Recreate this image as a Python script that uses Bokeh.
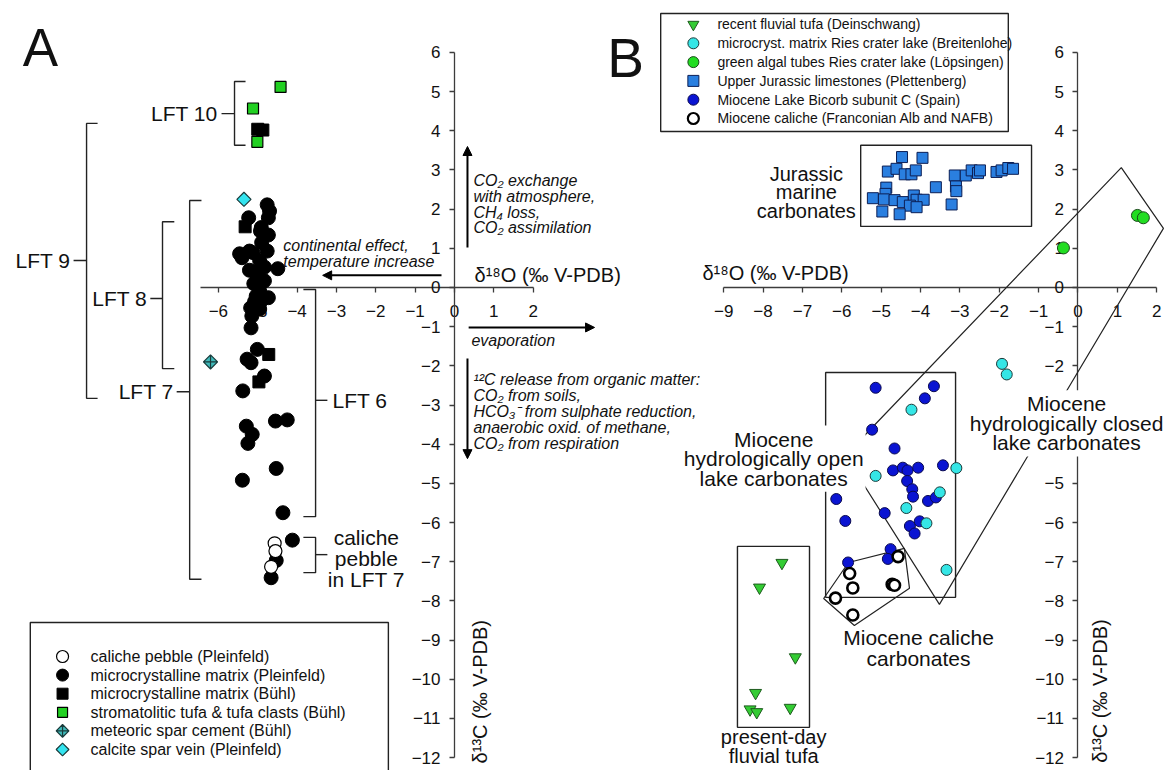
import math
from bokeh.plotting import figure
from bokeh.models import (Range1d, LinearAxis, FixedTicker, Label, Arrow, NormalHead)
from bokeh.embed import file_html
from bokeh.resources import INLINE

FONT = "Liberation Sans"

# ---------------- Panel A data (d18O, d13C) ----------------
A_caliche_x = [-4.57, -4.55, -4.66]
A_caliche_y = [-6.53, -6.73, -7.13]

A_matrix_pl_x = [-4.76, -4.70, -4.73, -5.23, -4.91, -4.93, -4.73, -4.76, -5.46, -5.40,
                 -5.21, -5.12, -4.95, -4.83, -4.49, -5.21, -5.04, -4.83, -4.95, -5.04,
                 -4.73, -5.08, -4.91, -5.18, -5.15, -5.17, -5.01, -5.27, -5.17, -4.83,
                 -5.38, -4.55, -4.25, -5.29, -5.14, -5.25, -4.53, -5.39, -4.36, -4.12,
                 -4.53, -4.66, -4.95, -5.10, -4.90]
A_matrix_pl_y = [2.11, 1.95, 1.78, 1.78, 1.53, 1.44, 1.34, 0.93, 0.86, 0.76,
                 0.93, 0.89, 0.68, 0.52, 0.48, 0.44, 0.40, 0.17, -0.09, -0.22,
                 -0.26, -0.36, -0.34, -0.52, -0.73, -1.03, -1.58, -1.83, -1.92, -2.26,
                 -2.64, -3.41, -3.38, -3.54, -3.75, -3.98, -4.62, -4.92, -5.75, -6.45,
                 -6.97, -7.41, -0.55, 0.10, 1.15]

A_matrix_bu_x = [-5.00, -4.87, -5.32, -4.72, -4.97]
A_matrix_bu_y = [4.04, 4.02, 1.55, -1.71, -2.41]

A_tufa_x = [-4.42, -5.12, -5.01]
A_tufa_y = [5.12, 4.57, 3.72]

A_meteoric_x = [-6.20]
A_meteoric_y = [-1.90]

A_vein_x = [-5.35]
A_vein_y = [2.25]

# ---------------- Panel B data ----------------
B_recent_x = [-7.52, -8.09, -7.18, -8.19, -8.33, -8.16, -7.31]
B_recent_y = [-7.03, -7.66, -9.44, -10.35, -10.77, -10.84, -10.73]

B_ries_x = [-4.23, -5.14, -3.09, -3.51, -4.36, -3.85, -3.34, -1.93, -1.81, -2.49]
B_ries_y = [-3.12, -4.81, -4.61, -5.23, -5.63, -6.02, -7.21, -1.95, -2.22, -2.90]

B_algal_x = [1.51, 1.66, -0.37]
B_algal_y = [1.84, 1.78, 1.01]

B_jur_x = [-4.47, -3.95, -4.83, -4.61, -4.40, -4.23, -4.12, -4.87, -4.89, -5.21,
           -4.93, -4.66, -4.45, -4.17, -4.10, -3.92, -4.27, -4.10, -4.97, -4.53,
           -3.61, -3.21, -3.13, -3.10, -3.09, -2.85, -2.70, -2.54, -2.49, -2.07,
           -1.94, -1.77, -1.65]
B_jur_y = [3.33, 3.31, 2.96, 3.03, 2.89, 2.89, 2.99, 2.55, 2.39, 2.28,
           2.25, 2.23, 2.18, 2.35, 2.24, 2.24, 2.09, 2.05, 1.94, 1.87,
           2.56, 2.12, 2.86, 2.58, 2.46, 2.86, 2.99, 2.92, 2.99, 2.95,
           2.99, 3.05, 3.03]

B_bicorb_x = [-5.14, -3.66, -3.89, -5.23, -4.66, -4.70, -4.45, -4.33, -4.06, -3.43,
              -4.34, -4.21, -4.19, -3.81, -3.61, -6.14, -4.91, -5.91, -4.27, -4.02,
              -4.15, -4.76, -4.83, -5.84]
B_bicorb_y = [-2.56, -2.52, -2.83, -3.63, -4.11, -4.67, -4.60, -4.67, -4.60, -4.54,
              -4.94, -5.15, -5.34, -5.45, -5.36, -5.40, -5.76, -5.96, -6.09, -5.97,
              -6.28, -6.68, -6.93, -7.02]

B_caliche_x = [-4.57, -5.80, -5.72, -4.72, -4.66, -6.16, -5.72]
B_caliche_y = [-6.87, -7.30, -7.67, -7.58, -7.60, -7.93, -8.36]

# field outlines (panel B)
closed_poly_x = [1.10, 2.17, -3.52, -5.91]
closed_poly_y = [3.06, 1.51, -8.09, -4.29]
caliche_poly_x = [-5.83, -4.41, -4.28, -5.68, -6.46]
caliche_poly_y = [-7.02, -6.66, -7.68, -8.63, -7.94]

A_ticks_x = list(range(-6, 3))
B_ticks_x = list(range(-9, 3))
ticks_y = list(range(-12, 7))

legend_A_labels = ["caliche pebble (Pleinfeld)",
                   "microcrystalline matrix (Pleinfeld)",
                   "microcrystalline matrix (Bühl)",
                   "stromatolitic tufa & tufa clasts (Bühl)",
                   "meteoric spar cement (Bühl)",
                   "calcite spar vein (Pleinfeld)"]
legend_B_labels = ["recent fluvial tufa (Deinschwang)",
                   "microcryst. matrix Ries crater lake (Breitenlohe)",
                   "green algal tubes Ries crater lake (Löpsingen)",
                   "Upper Jurassic limestones (Plettenberg)",
                   "Miocene Lake Bicorb subunit C (Spain)",
                   "Miocene caliche (Franconian Alb and NAFB)"]

# ---------------- figure ----------------
p = figure(width=1166, height=770, x_range=Range1d(-11.537, 18.094),
           y_range=Range1d(-12.331, 7.327), x_axis_type=None, y_axis_type=None,
           toolbar_location=None, output_backend="svg", min_border=0)
p.outline_line_color = None
p.extra_x_ranges = {"B": Range1d(-27.369, 2.248)}


def make_axis(ticks, bounds, dim, **kw):
    ax = LinearAxis(ticker=FixedTicker(ticks=ticks), bounds=bounds, fixed_location=0, **kw)
    ax.major_tick_in = 0
    ax.major_tick_out = 5
    ax.minor_tick_in = 0
    ax.minor_tick_out = 0
    ax.axis_line_color = "#3c3c3c"
    ax.axis_line_width = 1.3
    ax.major_tick_line_color = "#3c3c3c"
    ax.major_tick_line_width = 1.3
    ax.major_label_text_font = FONT
    ax.major_label_text_font_size = "17px"
    ax.major_label_text_color = "#111111"
    ax.major_label_standoff = 13 if dim == "x" else 9
    ax.level = "underlay"
    return ax


p.add_layout(make_axis(A_ticks_x, (-6.45, 2), "x"), "below")
p.add_layout(make_axis(ticks_y, (-12, 6), "y"), "left")
p.add_layout(make_axis(B_ticks_x, (-9, 2), "x", x_range_name="B"), "below")
p.add_layout(make_axis(ticks_y, (-12, 6), "y", x_range_name="B"), "left")

LC = "#222222"

# ---------------- Panel A brackets ----------------
def bracket(x, y0, y1, tick_to, label_y, label_to):
    p.line([tick_to, x, x, tick_to], [y0, y0, y1, y1], line_color=LC, line_width=1.4)
    p.line([x, label_to], [label_y, label_y], line_color=LC, line_width=1.4)

bracket(-5.59, 5.26, 3.63, -5.31, 4.44, -5.92)
bracket(-9.35, 4.19, -2.83, -9.07, 0.69, -9.68)
bracket(-7.42, 1.68, -2.07, -7.12, -0.28, -7.73)
bracket(-6.73, 2.22, -7.45, -6.43, -2.66, -7.06)
bracket(-3.53, -0.05, -5.85, -3.84, -2.88, -3.23)
bracket(-3.53, -6.38, -7.28, -3.84, -6.82, -3.23)

# ---------------- marker styles ----------------
Q = math.pi / 4
STY = {
    "A_cal": dict(marker="circle", fill_color="white", line_color="black", line_width=1.2),
    "A_mpl": dict(marker="circle", fill_color="black", line_color="black", line_width=1),
    "A_mbu": dict(marker="square", fill_color="black", line_color="black", line_width=1),
    "A_tufa": dict(marker="square", fill_color="#22d022", line_color="black", line_width=1.2),
    "A_met": dict(marker="square_x", angle=Q, fill_color="#3fb9b9", line_color="#1a3b3b", line_width=1.2),
    "A_vein": dict(marker="square", angle=Q, fill_color="#33e4ef", line_color="#1a3b3b", line_width=1.2),
    "B_rec": dict(marker="inverted_triangle", fill_color="#33cc33", line_color="#1e5a1e", line_width=1),
    "B_ries": dict(marker="circle", fill_color="#35e6e6", line_color="#1a3a3a", line_width=1),
    "B_alg": dict(marker="circle", fill_color="#22dd22", line_color="#1a4a1a", line_width=1),
    "B_jur": dict(marker="square", fill_color="#2a7fe0", line_color="#0c1f55", line_width=1),
    "B_bic": dict(marker="circle", fill_color="#0a14d2", line_color="#0a0a50", line_width=1),
    "B_cal": dict(marker="circle", fill_color="white", line_color="black", line_width=2.6),
}

# ---------------- Panel A points ----------------
p.scatter(A_matrix_pl_x, A_matrix_pl_y, size=14, **STY["A_mpl"])
p.scatter(A_caliche_x, A_caliche_y, size=13, **STY["A_cal"])
p.scatter(A_matrix_bu_x, A_matrix_bu_y, size=12, **STY["A_mbu"])
p.scatter(A_tufa_x, A_tufa_y, size=11, **STY["A_tufa"])
p.scatter(A_meteoric_x, A_meteoric_y, size=10, **STY["A_met"])
p.scatter(A_vein_x, A_vein_y, size=10, **STY["A_vein"])

# ---------------- Panel B outlines ----------------
p.quad(left=[-5.52], right=[-1.18], top=[3.63], bottom=[1.56], fill_color=None,
       line_color=LC, line_width=1.4, x_range_name="B")
p.quad(left=[-6.41], right=[-3.11], top=[-2.17], bottom=[-7.91], fill_color=None,
       line_color=LC, line_width=1.4, x_range_name="B")
p.quad(left=[-8.65], right=[-6.82], top=[-6.61], bottom=[-11.23], fill_color=None,
       line_color=LC, line_width=1.4, x_range_name="B")
p.patch(closed_poly_x, closed_poly_y, fill_color=None, line_color=LC, line_width=1.2,
        x_range_name="B")
p.patch(caliche_poly_x, caliche_poly_y, fill_color=None, line_color=LC, line_width=1.2,
        x_range_name="B")

# ---------------- Panel B points ----------------
p.scatter(B_jur_x, B_jur_y, size=11, x_range_name="B", **STY["B_jur"])
p.scatter(B_bicorb_x, B_bicorb_y, size=11, x_range_name="B", **STY["B_bic"])
p.scatter(B_ries_x, B_ries_y, size=11, x_range_name="B", **STY["B_ries"])
p.scatter(B_caliche_x, B_caliche_y, size=11, x_range_name="B", **STY["B_cal"])
p.scatter(B_algal_x, B_algal_y, size=12, x_range_name="B", **STY["B_alg"])
p.scatter(B_recent_x, B_recent_y, size=12, x_range_name="B", **STY["B_rec"])


# ---------------- texts ----------------
def label(x, y, text, size, align="left", baseline="middle", style="normal",
          lh=1.2, angle=0.0, rng="default", bg=None):
    kw = dict(x=x, y=y, text=text, text_font=FONT, text_font_size=size,
              text_align=align, text_baseline=baseline, text_font_style=style,
              text_line_height=lh, angle=angle, text_color="#111111", x_range_name=rng)
    if bg:
        kw.update(background_fill_color=bg, padding=2)
    p.add_layout(Label(**kw))


# ---------------- legends (drawn as keys in the empty corners) ----------------
def row_y(py):
    # layout helper: pixel row of the 770 px page -> vertical data units
    return (287.0 - py) / 39.17

p.quad(left=[-10.78], right=[-1.68], top=[row_y(622)], bottom=[-13.0], fill_color=None,
       line_color=LC, line_width=1.4)
keysA = ["A_cal", "A_mpl", "A_mbu", "A_tufa", "A_met", "A_vein"]
sizesA = [12, 12, 11, 10, 9, 9]
for i, (k, t) in enumerate(zip(keysA, legend_A_labels)):
    yy = row_y(656 + 18.6 * i)
    p.scatter([-9.96], [yy], size=sizesA[i], **STY[k])
    label(-9.25, yy, t, "16px")

p.quad(left=[-10.60], right=[-1.77], top=[row_y(13)], bottom=[row_y(131)], fill_color=None,
       line_color=LC, line_width=1.4, x_range_name="B")
keysB = ["B_rec", "B_ries", "B_alg", "B_jur", "B_bic", "B_cal"]
for i, (k, t) in enumerate(zip(keysB, legend_B_labels)):
    yy = row_y(24 + 18.8 * i)
    sty = dict(STY[k])
    if k == "B_cal":
        sty["line_width"] = 2.2
    p.scatter([-9.77], [yy], size=11, x_range_name="B", **sty)
    label(-9.16, yy, t, "14px", rng="B")

# ---------------- arrows ----------------
def arrow(x0, y0, x1, y1):
    p.add_layout(Arrow(end=NormalHead(size=9, fill_color="black", line_color="black"),
                       x_start=x0, y_start=y0, x_end=x1, y_end=y1,
                       line_color="black", line_width=2))

arrow(-0.33, 0.31, -3.35, 0.31)
arrow(0.33, 1.02, 0.33, 3.60)
arrow(0.36, -1.02, 3.56, -1.02)
arrow(0.33, -1.81, 0.33, -4.37)

label(-10.52, 6.13, "A", "53px", align="center")
label(-11.49, 5.85, "B", "55px", align="center", rng="B")

label(-6.02, 4.44, "LFT 10", "21px", align="right")
label(-9.76, 0.69, "LFT 9", "21px", align="right")
label(-7.81, -0.28, "LFT 8", "21px", align="right")
label(-7.14, -2.66, "LFT 7", "21px", align="right")
label(-3.10, -2.88, "LFT 6", "21px")
label(-2.24, -6.92, "caliche\npebble\nin LFT 7", "21px", align="center", lh=0.91)

label(-4.35, 0.87, "continental effect,\ntemperature increase", "16px", style="italic", lh=0.92)
label(0.48, 2.12, "CO₂ exchange\nwith atmosphere,\nCH₄ loss,\nCO₂ assimilation", "16px",
      style="italic", lh=0.92)
label(0.51, 0.33, "δ¹⁸O (‰ V-PDB)", "20px")
label(0.43, -1.35, "evaporation", "16px", style="italic")
label(0.48, -3.17, "¹²C release from organic matter:\nCO₂ from soils,\nHCO₃⁻ from sulphate reduction,\n"
      "anaerobic oxid. of methane,\nCO₂ from respiration", "16px", style="italic", lh=0.95)
label(0.66, -12.15, "δ¹³C (‰ V-PDB)", "20px", angle=math.pi / 2)

label(-9.54, 0.38, "δ¹⁸O (‰ V-PDB)", "20px", rng="B")
label(0.57, -12.13, "δ¹³C (‰ V-PDB)", "20px", angle=math.pi / 2, rng="B")
label(-6.90, 2.43, "Jurassic\nmarine\ncarbonates", "20px", align="center", lh=0.85, rng="B")
label(-7.73, -4.37, "Miocene\nhydrologically open\nlake carbonates", "21px", align="center",
      lh=0.85, rng="B", bg="white")
label(-0.29, -3.47, "Miocene\nhydrologically closed\nlake carbonates", "21px", align="center",
      lh=0.85, rng="B", bg="white")
label(-4.05, -9.20, "Miocene caliche\ncarbonates", "21px", align="center", lh=0.91, rng="B")
label(-7.73, -11.72, "present-day\nfluvial tufa", "20px", align="center", lh=0.85, rng="B")

open("out.html", "w").write(file_html(p, INLINE))
